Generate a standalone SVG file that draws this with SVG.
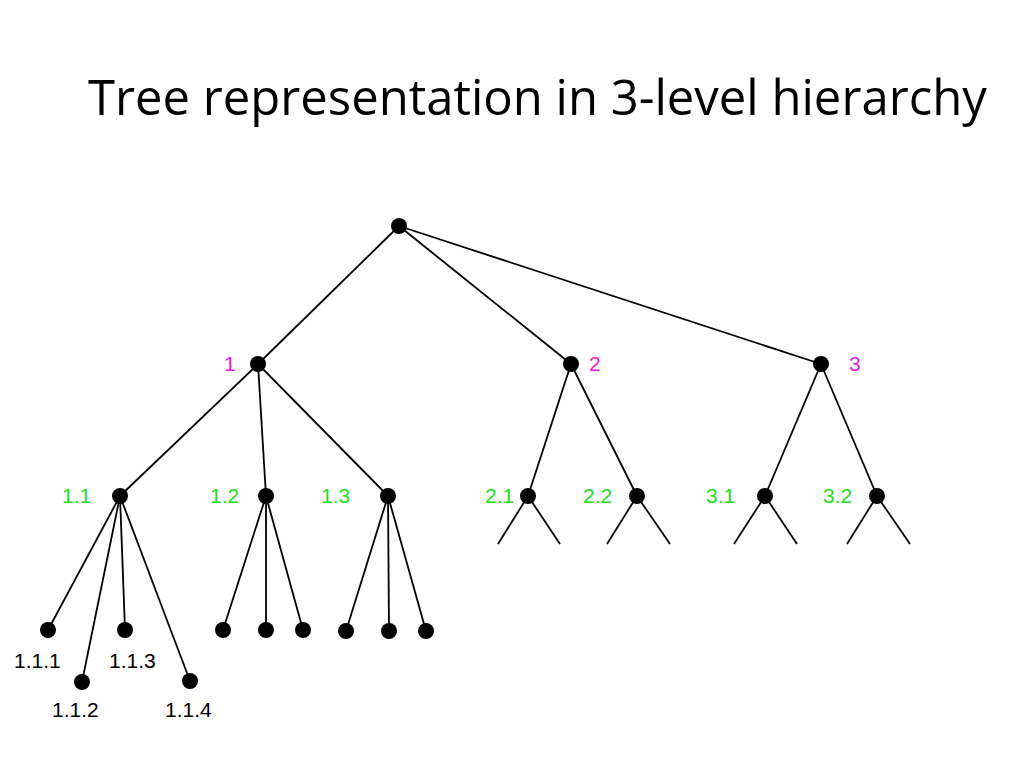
<svg xmlns="http://www.w3.org/2000/svg" width="1024" height="768" viewBox="0 0 1024 768">
<style>
.e{stroke:#000;stroke-width:1.8;fill:none}
.n{fill:#000}
.t{font-family:"Liberation Sans",Arial,sans-serif;font-size:21px}
.m{fill:#e020e0}
.g{fill:#22dd22}
.k{fill:#000}
.title{font-family:"Open Sans","Noto Sans",sans-serif;font-size:49px;fill:#000}
</style>
<rect width="1024" height="768" fill="#fff"/>
<text class="title" x="88" y="115">Tree representation in 3-level hierarchy</text>
<g id="connectors">
<line class="e" x1="399" y1="226" x2="258" y2="364"/>
<line class="e" x1="399" y1="226" x2="571" y2="364"/>
<line class="e" x1="399" y1="226" x2="821" y2="364"/>
<line class="e" x1="258" y1="364" x2="120" y2="496"/>
<line class="e" x1="258" y1="364" x2="266" y2="496"/>
<line class="e" x1="258" y1="364" x2="388" y2="496"/>
<line class="e" x1="571" y1="364" x2="528" y2="496"/>
<line class="e" x1="571" y1="364" x2="637" y2="496"/>
<line class="e" x1="821" y1="364" x2="765" y2="496"/>
<line class="e" x1="821" y1="364" x2="877" y2="496"/>
<line class="e" x1="120" y1="496" x2="48" y2="630"/>
<line class="e" x1="120" y1="496" x2="82" y2="682"/>
<line class="e" x1="120" y1="496" x2="125" y2="630"/>
<line class="e" x1="120" y1="496" x2="190" y2="681"/>
<line class="e" x1="266" y1="496" x2="223" y2="630"/>
<line class="e" x1="266" y1="496" x2="266" y2="630"/>
<line class="e" x1="266" y1="496" x2="303" y2="630"/>
<line class="e" x1="388" y1="496" x2="346" y2="631"/>
<line class="e" x1="388" y1="496" x2="389" y2="631"/>
<line class="e" x1="388" y1="496" x2="426" y2="631"/>
<line class="e" x1="528" y1="496" x2="498" y2="544"/>
<line class="e" x1="528" y1="496" x2="560" y2="544"/>
<line class="e" x1="637" y1="496" x2="607" y2="544"/>
<line class="e" x1="637" y1="496" x2="670" y2="544"/>
<line class="e" x1="765" y1="496" x2="734" y2="544"/>
<line class="e" x1="765" y1="496" x2="797" y2="544"/>
<line class="e" x1="877" y1="496" x2="847" y2="544"/>
<line class="e" x1="877" y1="496" x2="910" y2="544"/>
</g>
<g id="root"><circle class="n" cx="399" cy="226" r="8"/></g>
<g id="n1"><circle class="n" cx="258" cy="364" r="8"/><text class="t m" x="224" y="371">1</text></g>
<g id="n2"><circle class="n" cx="571" cy="364" r="8"/><text class="t m" x="589" y="371">2</text></g>
<g id="n3"><circle class="n" cx="821" cy="364" r="8"/><text class="t m" x="849" y="371">3</text></g>
<g id="n1_1"><circle class="n" cx="120" cy="496" r="8"/><text class="t g" x="62" y="503">1.1</text></g>
<g id="n1_2"><circle class="n" cx="266" cy="496" r="8"/><text class="t g" x="210" y="503">1.2</text></g>
<g id="n1_3"><circle class="n" cx="388" cy="496" r="8"/><text class="t g" x="321" y="503">1.3</text></g>
<g id="n2_1"><circle class="n" cx="528" cy="496" r="8"/><text class="t g" x="485" y="503">2.1</text></g>
<g id="n2_2"><circle class="n" cx="637" cy="496" r="8"/><text class="t g" x="583" y="503">2.2</text></g>
<g id="n3_1"><circle class="n" cx="765" cy="496" r="8"/><text class="t g" x="706" y="503">3.1</text></g>
<g id="n3_2"><circle class="n" cx="877" cy="496" r="8"/><text class="t g" x="823" y="503">3.2</text></g>
<g id="n1_1_1"><circle class="n" cx="48" cy="630" r="8"/><text class="t k" x="14" y="668">1.1.1</text></g>
<g id="n1_1_2"><circle class="n" cx="82" cy="682" r="8"/><text class="t k" x="52" y="717">1.1.2</text></g>
<g id="n1_1_3"><circle class="n" cx="125" cy="630" r="8"/><text class="t k" x="109" y="668">1.1.3</text></g>
<g id="n1_1_4"><circle class="n" cx="190" cy="681" r="8"/><text class="t k" x="165" y="717">1.1.4</text></g>
<g id="n1_2_1"><circle class="n" cx="223" cy="630" r="8"/></g>
<g id="n1_2_2"><circle class="n" cx="266" cy="630" r="8"/></g>
<g id="n1_2_3"><circle class="n" cx="303" cy="630" r="8"/></g>
<g id="n1_3_1"><circle class="n" cx="346" cy="631" r="8"/></g>
<g id="n1_3_2"><circle class="n" cx="389" cy="631" r="8"/></g>
<g id="n1_3_3"><circle class="n" cx="426" cy="631" r="8"/></g>
</svg>
